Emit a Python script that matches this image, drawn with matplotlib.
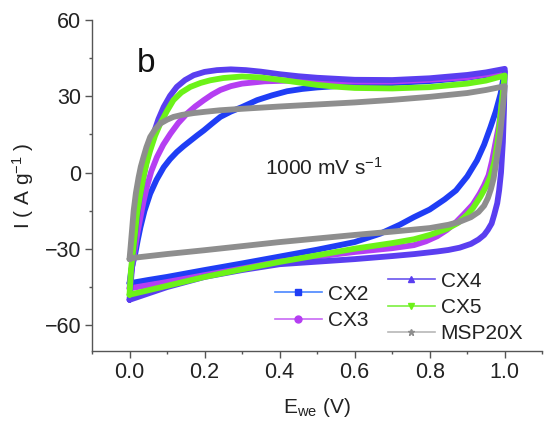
import matplotlib
matplotlib.use("Agg")
import matplotlib.pyplot as plt
from matplotlib.lines import Line2D
import numpy as np

plt.rcParams['font.family'] = ['Liberation Sans', 'DejaVu Sans']
plt.rcParams['mathtext.fontset'] = 'custom'
plt.rcParams['mathtext.rm'] = 'Liberation Sans'
plt.rcParams['mathtext.it'] = 'Liberation Sans:italic'

# ---------------- data ----------------
series_names = ["CX2", "CX3", "CX4", "CX5", "MSP20X"]

# CX2 (forward = upper branch, reverse = lower branch)
cx2_E_fwd = [0.0, 0.005, 0.01, 0.015, 0.022, 0.029, 0.04, 0.055, 0.072, 0.091, 0.108, 0.126, 0.144, 0.162,
             0.18, 0.198, 0.22, 0.242, 0.27, 0.30, 0.34, 0.38, 0.42, 0.46, 0.50, 0.60, 0.70, 0.80, 0.90, 1.0]
cx2_I_fwd = [-43.5, -38, -35, -32, -26.5, -21.5, -15, -8.3, -2.8, 2.1, 5.3, 8.1, 10.4, 12.5,
             14.6, 16.6, 19.3, 21.9, 24.0, 25.8, 28.5, 30.4, 32.0, 32.9, 33.5, 34.5, 35.2, 36.0, 37.3, 39.5]
cx2_E_rev = [1.0, 0.995, 0.989, 0.976, 0.962, 0.945, 0.926, 0.90, 0.87, 0.84, 0.80, 0.758, 0.72, 0.668,
             0.60, 0.50, 0.40, 0.30, 0.20, 0.10, 0.05, 0.0]
cx2_I_rev = [39.5, 36.0, 31.0, 24.0, 17.9, 11.0, 4.8, -1.5, -7.0, -10.5, -14.5, -17.5, -20.5, -24.0,
             -27.3, -30.3, -33.0, -35.7, -38.3, -41.0, -42.2, -43.5]

# CX3
cx3_E_fwd = [0.0, 0.003, 0.006, 0.01, 0.015, 0.022, 0.029, 0.037, 0.046, 0.058, 0.073, 0.09, 0.109, 0.13,
             0.153, 0.175, 0.198, 0.22, 0.242, 0.27, 0.30, 0.36, 0.45, 0.60, 0.70, 0.80, 0.90, 1.0]
cx3_I_fwd = [-45.5, -41, -38, -34, -29.4, -23, -17.6, -11.5, -5.7, 0.5, 6.1, 11.0, 15.3, 19.5,
             23.2, 26.0, 28.5, 30.7, 32.5, 34.0, 35.0, 35.9, 36.3, 35.8, 35.8, 36.5, 37.5, 39.8]
cx3_E_rev = [1.0, 0.997, 0.993, 0.985, 0.975, 0.966, 0.957, 0.945, 0.933, 0.915, 0.89, 0.87, 0.846, 0.82,
             0.79, 0.758, 0.70, 0.60, 0.50, 0.40, 0.30, 0.20, 0.10, 0.0]
cx3_I_rev = [39.8, 33.0, 28.5, 19.0, 11.4, 4.5, -1.0, -5.0, -8.3, -12.5, -16.5, -19.5, -22.5, -25.0,
             -27.0, -28.5, -29.7, -31.2, -33.0, -35.0, -37.7, -40.3, -43.0, -45.5]

# CX4
cx4_E_fwd = [0.0, 0.003, 0.008, 0.015, 0.022, 0.029, 0.037, 0.046, 0.055, 0.064, 0.077, 0.091, 0.108,
             0.126, 0.148, 0.171, 0.20, 0.233, 0.27, 0.31, 0.35, 0.40, 0.45, 0.50, 0.60, 0.70, 0.80,
             0.90, 0.95, 1.0]
cx4_I_fwd = [-50, -44, -35, -24, -15.5, -8.3, -1.5, 4.8, 10.2, 15.3, 21.0, 25.8, 30.2,
             33.7, 36.4, 38.3, 39.6, 40.3, 40.6, 40.3, 39.7, 38.7, 37.9, 37.3, 36.5, 36.4, 37.1,
             38.4, 39.4, 40.8]
cx4_E_rev = [1.0, 0.998, 0.995, 0.99, 0.985, 0.98, 0.972, 0.965, 0.955, 0.945, 0.93, 0.91, 0.88, 0.85,
             0.82, 0.76, 0.70, 0.60, 0.50, 0.40, 0.30, 0.20, 0.10, 0.05, 0.0]
cx4_I_rev = [40.8, 25.0, 12.0, 0.0, -7.0, -12.0, -16.5, -20.0, -22.5, -24.5, -26.3, -28.0, -29.5, -30.4,
             -31.0, -32.0, -32.8, -34.0, -35.0, -36.0, -38.3, -41.0, -45.0, -47.5, -50.0]

# CX5
cx5_E_fwd = [0.0, 0.002, 0.004, 0.01, 0.015, 0.02, 0.028, 0.037, 0.045, 0.055, 0.068, 0.082, 0.10, 0.117,
             0.138, 0.162, 0.19, 0.215, 0.25, 0.30, 0.35, 0.40, 0.45, 0.50, 0.55, 0.60, 0.70, 0.80,
             0.90, 0.95, 1.0]
cx5_I_fwd = [-48, -43, -38, -30, -23, -16.2, -9, -1.8, 3.5, 8.7, 14.5, 19.3, 24.3, 28.5,
             31.5, 33.7, 35.3, 36.3, 37.2, 37.8, 37.4, 36.5, 35.5, 34.5, 33.8, 33.3, 33.1, 33.6,
             35.0, 36.2, 38.2]
cx5_E_rev = [1.0, 0.995, 0.99, 0.985, 0.98, 0.972, 0.962, 0.952, 0.935, 0.915, 0.90, 0.875, 0.846, 0.80,
             0.758, 0.70, 0.60, 0.50, 0.40, 0.30, 0.20, 0.10, 0.0]
cx5_I_rev = [38.2, 32.0, 25.0, 17.0, 11.0, 4.0, -1.5, -5.0, -9.5, -14.0, -16.5, -19.8, -22.1, -24.5,
             -26.2, -27.7, -29.9, -32.5, -35.1, -38.0, -41.0, -44.5, -48.0]

# MSP20X
msp_E_fwd = [0.0, 0.003, 0.007, 0.011, 0.017, 0.024, 0.03, 0.037, 0.045, 0.055, 0.068, 0.082, 0.10, 0.117,
             0.14, 0.17, 0.20, 0.24, 0.30, 0.40, 0.50, 0.60, 0.70, 0.80, 0.90, 0.95, 1.0]
msp_I_fwd = [-34, -29, -22, -15, -8, -2, 2.3, 6, 10, 14, 17, 19.3, 20.8, 21.9,
             22.7, 23.4, 23.9, 24.5, 25.1, 26.0, 26.8, 27.6, 28.6, 29.8, 31.3, 32.5, 34.0]
msp_E_rev = [1.0, 0.997, 0.993, 0.989, 0.985, 0.98, 0.975, 0.97, 0.963, 0.955, 0.945, 0.93, 0.91, 0.88,
             0.85, 0.80, 0.70, 0.60, 0.50, 0.40, 0.30, 0.20, 0.10, 0.01, 0.0]
msp_I_rev = [34.0, 29.0, 23.0, 17.0, 12.0, 7.0, 2.0, -2.5, -6.5, -10.0, -13.0, -15.5, -17.5, -19.3,
             -20.5, -21.8, -23.2, -24.5, -25.9, -27.3, -28.9, -30.5, -32.0, -33.5, -34.0]

curves_E = [cx2_E_fwd + cx2_E_rev, cx3_E_fwd + cx3_E_rev, cx4_E_fwd + cx4_E_rev,
            cx5_E_fwd + cx5_E_rev, msp_E_fwd + msp_E_rev]
curves_I = [cx2_I_fwd + cx2_I_rev, cx3_I_fwd + cx3_I_rev, cx4_I_fwd + cx4_I_rev,
            cx5_I_fwd + cx5_I_rev, msp_I_fwd + msp_I_rev]

curve_colors = ["#1f3df5", "#b53ef2", "#5a3ef0", "#6cf218", "#8e8e8e"]
legend_line_colors = ["#4a86ff", "#c86af5", "#6a55ee", "#7df040", "#b8b8b8"]
legend_marker_colors = ["#1f3df5", "#b53ef2", "#5a3ef0", "#6cf218", "#8e8e8e"]
markers = ["s", "o", "^", "v", "*"]

x_ticks = [0.0, 0.2, 0.4, 0.6, 0.8, 1.0]
y_ticks = [-60, -30, 0, 30, 60]

# ---------------- figure ----------------
fig = plt.figure(figsize=(5.45, 4.26), dpi=100)
ax = fig.add_axes([0.1688, 0.1768, 0.995 - 0.1688, 0.953 - 0.1768])

for E, I, c in zip(curves_E, curves_I, curve_colors):
    ax.plot(E, I, color=c, lw=4.2, solid_joinstyle='round', solid_capstyle='round')

ax.set_xlim(-0.1, 1.1)
ax.set_ylim(-70, 60)
ax.set_xticks(x_ticks)
ax.set_xticklabels([f"{t:.1f}" for t in x_ticks])
ax.set_yticks(y_ticks)
ax.set_xticks(np.arange(-0.1, 1.15, 0.2), minor=True)
ax.set_yticks([-45, -15, 15, 45], minor=True)

spine_col = "#555555"
for s in ["top", "right"]:
    ax.spines[s].set_visible(False)
for s in ["left", "bottom"]:
    ax.spines[s].set_color(spine_col)
    ax.spines[s].set_linewidth(1.0)
ax.tick_params(which='major', direction='out', length=4.8, width=1.0, color=spine_col,
               labelsize=15.5, labelcolor="#222222", pad=3)
ax.tick_params(which='minor', direction='out', length=2.3, width=1.0, color=spine_col)

ax.set_xlabel(r"E$_{\mathrm{we}}$ (V)", fontsize=15, color="#222222")
ax.set_ylabel(r"I ( A g$^{-1}$ )", fontsize=15, color="#222222")
ax.xaxis.set_label_coords(0.5, -0.138)
ax.yaxis.set_label_coords(-0.124, 0.5)

ax.text(0.02, 39.5, "b", fontsize=24, color="#111111", va='baseline', ha='left')
ax.text(0.36, -1.0, r"1000 mV s$^{-1}$", fontsize=15, color="#222222", va='baseline', ha='left')

handles = [Line2D([0], [0], color=lc, lw=1.2, marker=m, markersize=5,
                  markerfacecolor=mc, markeredgecolor=mc)
           for lc, mc, m in zip(legend_line_colors, legend_marker_colors, markers)]

leg_kw = dict(loc='upper left', frameon=False, fontsize=15, borderpad=0, borderaxespad=0,
              handlelength=2.25, handletextpad=0.29, labelspacing=0.35, labelcolor="#222222")
leg1 = ax.legend(handles[:2], series_names[:2], bbox_to_anchor=(0.406, 0.200), **leg_kw)
ax.add_artist(leg1)
leg2 = ax.legend(handles[2:], series_names[2:], bbox_to_anchor=(0.657, 0.239), **leg_kw)

fig.savefig("out.png", dpi=100)
